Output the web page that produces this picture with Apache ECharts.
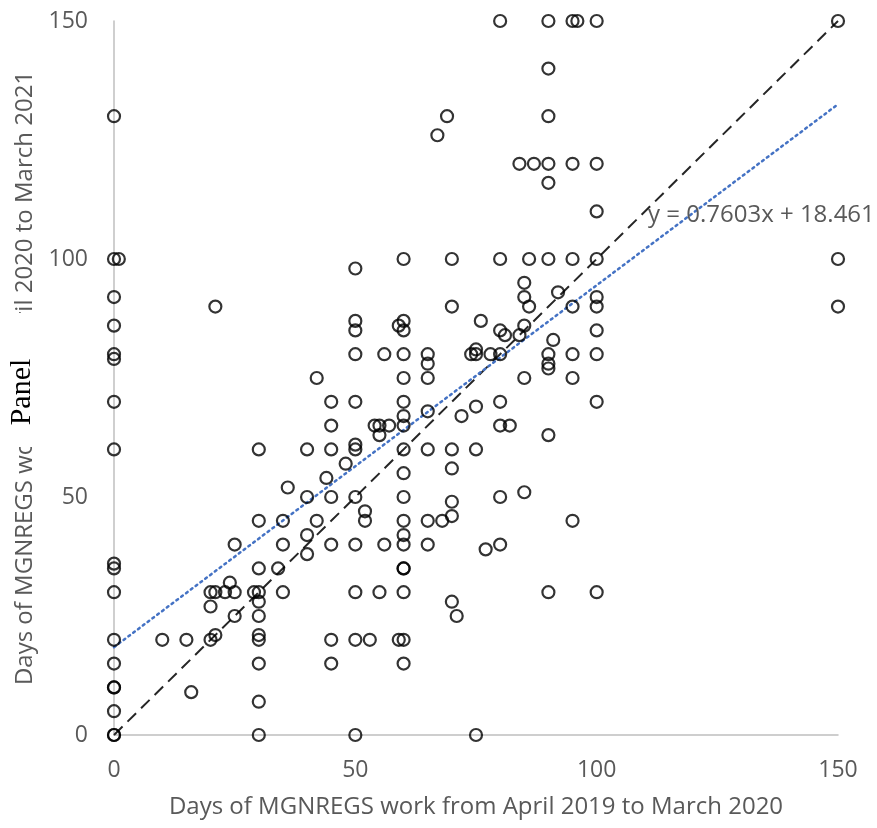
<!DOCTYPE html>
<html>
<head>
<meta charset="utf-8">
<script src="https://cdn.jsdelivr.net/npm/echarts@6/dist/echarts.min.js"></script>
<style>html,body{margin:0;padding:0;background:#fff;overflow:hidden}#c{width:877px;height:828px}</style>
</head>
<body>
<div id="c"></div>
<script>
// x = days of work Apr 2019 - Mar 2020, y = days Apr 2020 - Mar 2021
const pointsZero = [[0,130],[0,100],[1,100],[0,92],[0,86],[0,80],[0,79],[0,70],[0,60],[0,36],[0,35],[0,30],[0,20],[0,15],[0,10],[0,10],[0,5],[0,0],[0,0]];
const pointsLow = [[21,90],[30,60],[36,52],[30,45],[35,45],[25,40],[35,40],[30,35],[34,35],[24,32],
  [20,30],[21,30],[23,30],[25,30],[29,30],[30,30],[35,30],
  [20,27],[30,28],[25,25],[30,25],[20,20],[21,21],[10,20],[15,20],[30,21],[30,20],[30,15],[16,9],[30,7],[30,0]];
const pointsMid = [[85,95],[92,93],[85,92],[86,90],[95,90],[70,90],[50,87],[50,85],[59,86],[60,87],[60,85],[76,87],[80,85],[81,84],[84,84],[85,86],[91,83],
  [50,80],[56,80],[60,80],[65,80],[74,80],[75,80],[78,80],[80,80],[90,80],[95,80],[75,81],
  [65,78],[90,78],[90,77],[42,75],[60,75],[65,75],[85,75],[95,75],
  [45,70],[50,70],[60,70],[80,70],[75,69],[65,68],[72,67],[60,67],
  [45,65],[54,65],[55,65],[57,65],[55,63],[60,65],[80,65],[82,65],[90,63],
  [40,60],[45,60],[50,60],[60,60],[65,60],[70,60],[75,60],[50,61],
  [48,57],[70,56],[60,55],[44,54],
  [40,50],[45,50],[50,50],[60,50],[80,50],[85,51],[70,49],[52,47],[52,45],[42,45],[60,45],[65,45],[68,45],[70,46],[95,45],
  [40,42],[60,42],[45,40],[50,40],[56,40],[60,40],[65,40],[80,40],[77,39],[40,38]];
const pointsBottom = [[60,35],[60,35],[50,30],[55,30],[60,30],[90,30],[70,28],[71,25],[45,20],[50,20],[53,20],[59,20],[60,20],[45,15],[60,15],[50,0],[75,0]];
const pointsRight = [[100,92],[100,90],[150,90],[100,85],[100,80],[100,70],[100,30]];
const pointsTop = [[95,150],[96,150],[100,150],[150,150],[95,120],[100,120],[100,110],[95,100],[100,100],[150,100],
  [80,150],[90,150],[90,140],[90,130],[69,130],[67,126],[84,120],[87,120],[90,120],[90,116],
  [60,100],[70,100],[80,100],[86,100],[90,100],[50,98]];

const slope = 0.7603, intercept = 18.461;
const xTicks = [0, 50, 100, 150];
const equationText = 'y = 0.7603x + 18.461';

const allPoints = [].concat(pointsZero, pointsLow, pointsMid, pointsBottom, pointsRight, pointsTop);
const xMin = xTicks[0], xMax = xTicks[xTicks.length-1];
const trend = [[xMin, slope*xMin+intercept],[xMax, slope*xMax+intercept]];
const diag = [[xMin, xMin],[xMax, xMax]];

const chart = echarts.init(document.getElementById('c'));
const labelColor = '#595959';
const font = 'Open Sans';
chart.setOption({
  animation: false,
  backgroundColor: '#fff',
  grid: {left: 114, right: 39, top: 21, bottom: 93, containLabel: false, outerBoundsMode: 'none'},
  xAxis: {
    type: 'value', min: 0, max: 150, interval: 50,
    name: 'Days of MGNREGS work from April 2019 to March 2020',
    nameLocation: 'middle', nameGap: 60,
    nameTextStyle: {color: labelColor, fontSize: 24, fontFamily: font},
    axisLine: {show: true, lineStyle: {color: '#bfbfbf', width: 1.5}},
    axisTick: {show: false}, splitLine: {show: false},
    axisLabel: {color: labelColor, fontSize: 23, fontFamily: font, margin: 24}
  },
  yAxis: {
    type: 'value', min: 0, max: 150, interval: 50,
    name: 'Days of MGNREGS work from April 2020 to March 2021',
    nameLocation: 'middle', nameGap: 76,
    nameTextStyle: {color: labelColor, fontSize: 24, fontFamily: font},
    axisLine: {show: true, lineStyle: {color: '#bfbfbf', width: 1.5}},
    axisTick: {show: false}, splitLine: {show: false},
    axisLabel: {color: labelColor, fontSize: 23, fontFamily: font, margin: 26}
  },
  series: [
    {type: 'line', data: diag, symbol: 'none', silent: true, z: 1,
     lineStyle: {color: '#262626', width: 2, type: [12, 7]}},
    {type: 'line', data: trend, symbol: 'none', silent: true, z: 1,
     lineStyle: {color: '#4472C4', width: 2.5, type: [2, 4], cap: 'round'}},
    {type: 'scatter', data: allPoints, symbol: 'circle', symbolSize: 12, z: 3,
     itemStyle: {color: 'rgba(0,0,0,0)', borderColor: '#000', borderWidth: 2.2}}
  ],
  graphic: [
    {type: 'text', left: 648, top: 203, z: 10,
     style: {text: equationText, fill: labelColor, fontSize: 24, fontFamily: font}},
    {type: 'rect', shape: {x: 6, y: 313, width: 44, height: 134}, z: 10,
     style: {fill: '#fff'}},
    {type: 'text', x: 22, y: 392, rotation: Math.PI/2, z: 11,
     style: {text: 'Panel', fill: '#000', fontSize: 30, fontFamily: 'Liberation Serif', align: 'center', verticalAlign: 'middle'}}
  ]
});
</script>
</body>
</html>
